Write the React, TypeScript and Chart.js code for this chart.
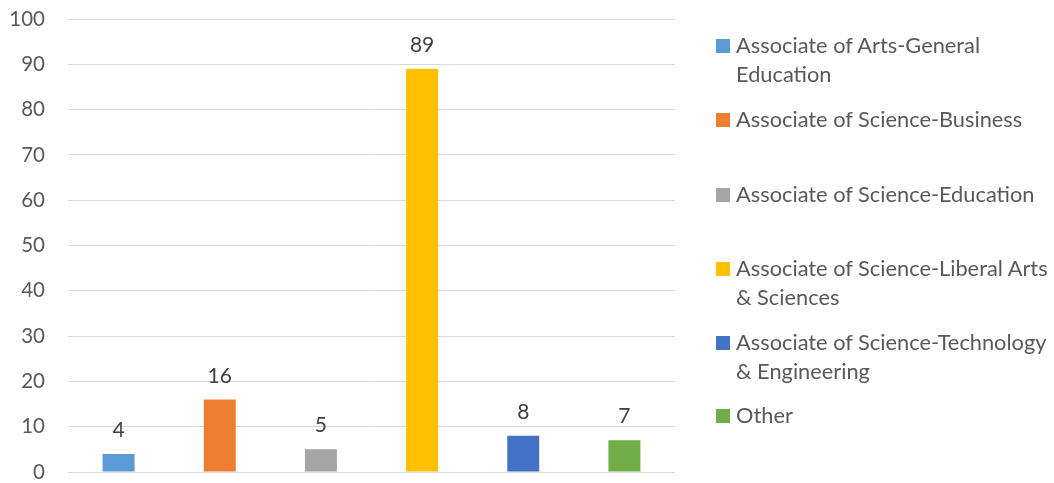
import React, { useEffect, useRef } from "react";
import { Chart, registerables } from "chart.js";

Chart.register(...registerables);

const categories: string[] = [
  "Associate of Arts-General Education",
  "Associate of Science-Business",
  "Associate of Science-Education",
  "Associate of Science-Liberal Arts & Sciences",
  "Associate of Science-Technology & Engineering",
  "Other",
];
const values: number[] = [4, 16, 5, 89, 8, 7];
const colors: string[] = ["#5B9BD5", "#ED7D31", "#A5A5A5", "#FFC000", "#4472C4", "#70AD47"];
const yTicks: number[] = [0, 10, 20, 30, 40, 50, 60, 70, 80, 90, 100];

const FONT = "Lato, 'Open Sans', sans-serif";

const dataLabelPlugin = {
  id: "dataLabels",
  afterDatasetsDraw(chart: any) {
    const ctx = chart.ctx;
    const meta = chart.getDatasetMeta(0);
    ctx.save();
    ctx.fillStyle = "#404040";
    ctx.font = `21px ${FONT}`;
    ctx.textAlign = "center";
    ctx.textBaseline = "alphabetic";
    meta.data.forEach((bar: any, i: number) => {
      ctx.fillText(String(chart.data.datasets[0].data[i]), bar.x, bar.y - 17);
    });
    ctx.restore();
  },
};

export default function App() {
  const ref = useRef<HTMLCanvasElement | null>(null);
  useEffect(() => {
    if (!ref.current) return;
    const chart = new Chart(ref.current, {
      type: "bar",
      data: {
        labels: categories,
        datasets: [
          {
            data: values,
            backgroundColor: colors,
            categoryPercentage: 1,
            barPercentage: 0.316,
          },
        ],
      },
      plugins: [dataLabelPlugin],
      options: {
        animation: false,
        responsive: false,
        maintainAspectRatio: false,
        layout: { padding: { top: 19, bottom: 11, right: 15, left: 0 } },
        plugins: { legend: { display: false }, tooltip: { enabled: false } },
        scales: {
          x: { display: false },
          y: {
            min: 0,
            max: 100,
            afterBuildTicks(scale: any) {
              scale.ticks = yTicks.map((v) => ({ value: v }));
            },
            afterFit(scale: any) {
              scale.width = 68;
              scale.paddingTop = 0;
              scale.paddingBottom = 0;
            },
            border: { display: false },
            grid: {
              color: "#d9d9d9",
              lineWidth: 1,
              drawTicks: true,
              tickLength: 23,
              tickColor: "transparent",
            },
            ticks: {
              padding: 0,
              color: "#595959",
              font: { family: FONT, size: 20.5 },
            },
          },
        },
      },
    });
    return () => chart.destroy();
  }, []);

  const itemTops = [39, 113, 188, 262, 336, 409];
  return (
    <div style={{ position: "fixed", left: 0, top: 0, width: 1054, height: 483, background: "#fff" }}>
      <canvas ref={ref} width={690} height={483} style={{ position: "absolute", left: 0, top: 0 }} />
      {categories.map((c, i) => (
        <div key={c} style={{ position: "absolute", left: 716, top: itemTops[i], width: 338 }}>
          <div style={{ position: "absolute", left: 0, top: 0, width: 14, height: 14, background: colors[i] }} />
          <div
            style={{
              position: "absolute",
              left: 20,
              top: -9,
              width: 322,
              fontFamily: FONT,
              fontSize: 21.8,
              lineHeight: "29px",
              color: "#595959",
            }}
          >
            {c}
          </div>
        </div>
      ))}
    </div>
  );
}
